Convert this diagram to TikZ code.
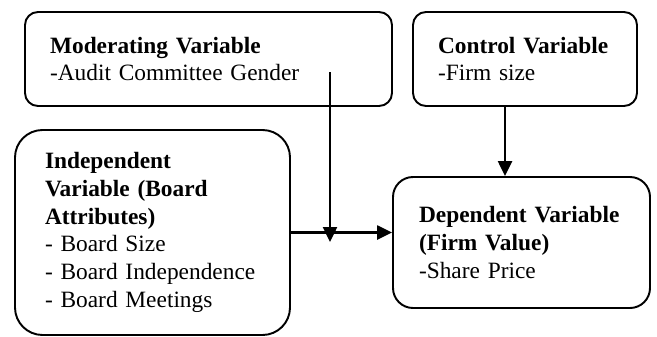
\documentclass[tikz,border=0pt]{standalone}
\usepackage{fontspec}
\setmainfont{Liberation Serif}
\usetikzlibrary{arrows.meta, positioning}
\hyphenpenalty=10000

\begin{document}
\begin{tikzpicture}[font=\fontsize{13.3pt}{15.8pt}\selectfont,
  varbox/.style={draw, line width=1.1pt, align=left, inner ysep=0pt},
  link/.style={line width=1.4pt, -{Triangle[length=0.3cm, width=0.28cm]}}]
  \useasboundingbox (0,0) rectangle (13.14,6.72);

  % the four variable boxes
  \node[varbox, rounded corners=0.26cm, minimum width=7.34cm, minimum height=1.88cm,
        text width=6.34cm] (mod) at (4.17,5.54)
    {\textbf{Moderating Variable}\\-Audit Committee Gender};
  \node[varbox, rounded corners=0.26cm, minimum width=4.48cm, minimum height=1.88cm,
        text width=3.48cm] (ctrl) at (10.50,5.54)
    {\textbf{Control Variable}\\-Firm size};
  \node[varbox, rounded corners=0.55cm, minimum width=5.5cm, minimum height=4.1cm,
        text width=4.3cm] (indep) at (3.05,2.07)
    {\textbf{Independent}\\\textbf{Variable (Board}\\\textbf{Attributes)}\\
     - Board Size\\- Board Independence\\- Board Meetings};
  \node[varbox, rounded corners=0.4cm, minimum width=5.14cm, minimum height=2.62cm,
        text width=4.1cm] (dep) at (10.43,1.87)
    {\textbf{Dependent Variable}\\\textbf{(Firm Value)}\\-Share Price};

  % moderator drops onto the main path
  \coordinate (modtap) at (6.60,5.28);
  \coordinate (junction) at (6.60,1.88);

  \draw[link] (indep.east) -- (indep.east -| dep.west);
  \draw[link] (modtap) -- (junction);
  \draw[link] ([xshift=-0.4cm]ctrl.south) -- ([xshift=-0.4cm]ctrl.south |- dep.north);
\end{tikzpicture}
\end{document}
